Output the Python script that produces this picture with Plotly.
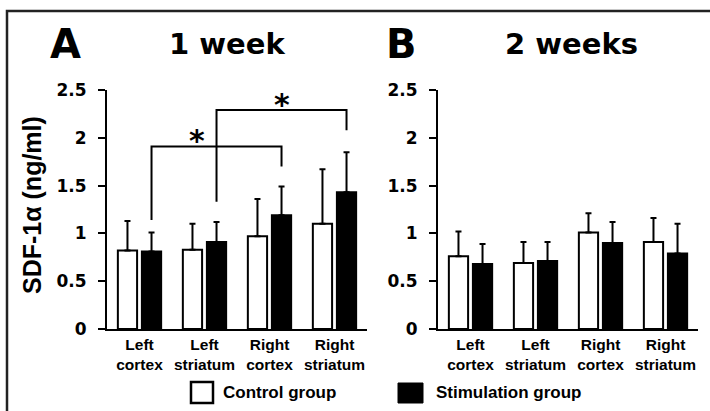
import plotly.graph_objects as go

# ---------------- data ----------------
categories = ["Left<br>cortex", "Left<br>striatum", "Right<br>cortex", "Right<br>striatum"]
week1_control = [0.82, 0.83, 0.97, 1.10]
week1_control_err = [0.31, 0.27, 0.39, 0.57]
week1_stim = [0.81, 0.91, 1.19, 1.43]
week1_stim_err = [0.20, 0.21, 0.30, 0.42]
week2_control = [0.76, 0.69, 1.01, 0.91]
week2_control_err = [0.26, 0.22, 0.20, 0.25]
week2_stim = [0.68, 0.71, 0.90, 0.79]
week2_stim_err = [0.21, 0.20, 0.22, 0.31]
y_ticks = [0, 0.5, 1, 1.5, 2, 2.5]
y_tick_labels = ["0", "0.5", "1", "1.5", "2", "2.5"]
# significance brackets (week 1): from stim bar of cat a to stim bar of cat b
sig_from = [0, 1]
sig_to = [2, 3]
sig_level = [1.91, 2.29]
sig_left_end = [1.14, 1.33]
sig_right_end = [1.70, 2.08]
sig_star_x = [0.88, 2.185]
sig_label = ["*", "*"]

W, H = 710, 411
BARGAP = 0.26
BARGROUPGAP = 0.2
STIM_OFF = (1 - BARGAP) / 4

def px(x):
    return x / W

def py(y):
    return (H - y) / H

TICKFONT = dict(family="DejaVu Sans", size=17, color="black", weight="bold")
CATFONT = dict(family="Liberation Sans, Arial", size=15.5, color="black", weight="bold")

fig = go.Figure()
xs = list(range(len(categories)))

def add_panel(ctrl, ctrl_err, stim, stim_err, xa, ya):
    fig.add_trace(go.Bar(
        x=xs, y=ctrl, xaxis=xa, yaxis=ya, name="Control group",
        marker=dict(color="white", line=dict(color="black", width=2)),
        error_y=dict(type="data", symmetric=False, array=ctrl_err,
                     arrayminus=[0] * len(ctrl), color="black", thickness=2, width=3),
        showlegend=False))
    fig.add_trace(go.Bar(
        x=xs, y=stim, xaxis=xa, yaxis=ya, name="Stimulation group",
        marker=dict(color="black", line=dict(color="black", width=2)),
        error_y=dict(type="data", symmetric=False, array=stim_err,
                     arrayminus=[0] * len(stim), color="black", thickness=2, width=3),
        showlegend=False))

add_panel(week1_control, week1_control_err, week1_stim, week1_stim_err, "x", "y")
add_panel(week2_control, week2_control_err, week2_stim, week2_stim_err, "x2", "y2")

ydom = [py(329), py(90)]
common_x = dict(range=[-0.5, 3.5], tickmode="array", tickvals=xs, ticktext=categories,
                showline=True, linecolor="black", linewidth=2, ticks="", showgrid=False,
                zeroline=False, tickfont=CATFONT, fixedrange=True, automargin=False)
common_y = dict(range=[0, 2.5], tickmode="array", tickvals=y_ticks, ticktext=y_tick_labels,
                showline=True, linecolor="black", linewidth=2, ticks="outside", ticklen=7,
                tickwidth=2, tickcolor="black", showgrid=False, zeroline=False,
                tickfont=TICKFONT, ticklabelstandoff=8, domain=ydom, automargin=False,
                fixedrange=True)

fig.update_layout(
    width=W, height=H, autosize=False,
    margin=dict(l=0, r=0, t=0, b=0, pad=0, autoexpand=False),
    paper_bgcolor="white", plot_bgcolor="rgba(0,0,0,0)",
    barmode="group", bargap=BARGAP, bargroupgap=BARGROUPGAP,
    showlegend=False,
    xaxis=dict(domain=[px(107), px(367)], anchor="y", **common_x),
    yaxis=dict(anchor="x", **common_y),
    xaxis2=dict(domain=[px(438), px(698)], anchor="y2", **common_x),
    yaxis2=dict(anchor="x2", **common_y),
)

shapes = []
# outer frame (left + top)
shapes.append(dict(type="path", xref="paper", yref="paper",
                   path=f"M {px(7)},0 L {px(7)},{py(11)} L 1,{py(11)}",
                   line=dict(color="#222222", width=2.5)))
# significance brackets
annotations = []
for a, b, lvl, le, re_, sx, lab in zip(sig_from, sig_to, sig_level, sig_left_end,
                                       sig_right_end, sig_star_x, sig_label):
    xa_ = a + STIM_OFF
    xb_ = b + STIM_OFF
    shapes.append(dict(type="path", xref="x", yref="y",
                       path=f"M {xa_},{le} L {xa_},{lvl} L {xb_},{lvl} L {xb_},{re_}",
                       line=dict(color="black", width=2)))
    annotations.append(dict(x=sx, y=lvl, xref="x", yref="y", text=lab, showarrow=False,
                            xanchor="center", yanchor="bottom", yshift=-14,
                            font=dict(family="DejaVu Sans", size=30, color="black", weight="bold")))

# legend swatches
shapes.append(dict(type="rect", xref="paper", yref="paper",
                   x0=px(191), x1=px(213), y0=py(403), y1=py(382),
                   fillcolor="white", line=dict(color="black", width=2.5)))
shapes.append(dict(type="rect", xref="paper", yref="paper",
                   x0=px(398), x1=px(423), y0=py(403), y1=py(383),
                   fillcolor="black", line=dict(color="black", width=1)))
LEGFONT = dict(family="Liberation Sans, Arial", size=17, color="black", weight="bold")
annotations.append(dict(x=px(221), y=py(392.5), xref="paper", yref="paper", text="Control group",
                        showarrow=False, xanchor="left", yanchor="middle", font=LEGFONT))
annotations.append(dict(x=px(434), y=py(392.5), xref="paper", yref="paper", text="Stimulation group",
                        showarrow=False, xanchor="left", yanchor="middle", font=LEGFONT))

# panel titles
TITLEFONT = dict(family="DejaVu Sans", size=29, color="black", weight="bold")
LETTERFONT = dict(family="DejaVu Sans", size=40, color="black", weight="bold")
annotations.append(dict(x=px(65), y=py(44), xref="paper", yref="paper", text="A", showarrow=False,
                        xanchor="center", yanchor="middle", font=LETTERFONT))
annotations.append(dict(x=px(401), y=py(44), xref="paper", yref="paper", text="B", showarrow=False,
                        xanchor="center", yanchor="middle", font=LETTERFONT))
annotations.append(dict(x=px(227), y=py(44), xref="paper", yref="paper", text="1 week", showarrow=False,
                        xanchor="center", yanchor="middle", font=TITLEFONT))
annotations.append(dict(x=px(571), y=py(44), xref="paper", yref="paper", text="2 weeks", showarrow=False,
                        xanchor="center", yanchor="middle", font=TITLEFONT))
# y-axis title
annotations.append(dict(x=px(32), y=py(205), xref="paper", yref="paper", text="SDF-1α (ng/ml)",
                        showarrow=False, textangle=-90, xanchor="center", yanchor="middle",
                        font=dict(family="Liberation Sans, Arial", size=25, color="black", weight="bold")))

fig.update_layout(shapes=shapes, annotations=annotations)
fig.write_html("out.html", config=dict(displayModeBar=False, staticPlot=True),
               post_script="document.body.style.margin='0';document.body.style.padding='0';"
                           "document.documentElement.style.overflow='hidden';")
